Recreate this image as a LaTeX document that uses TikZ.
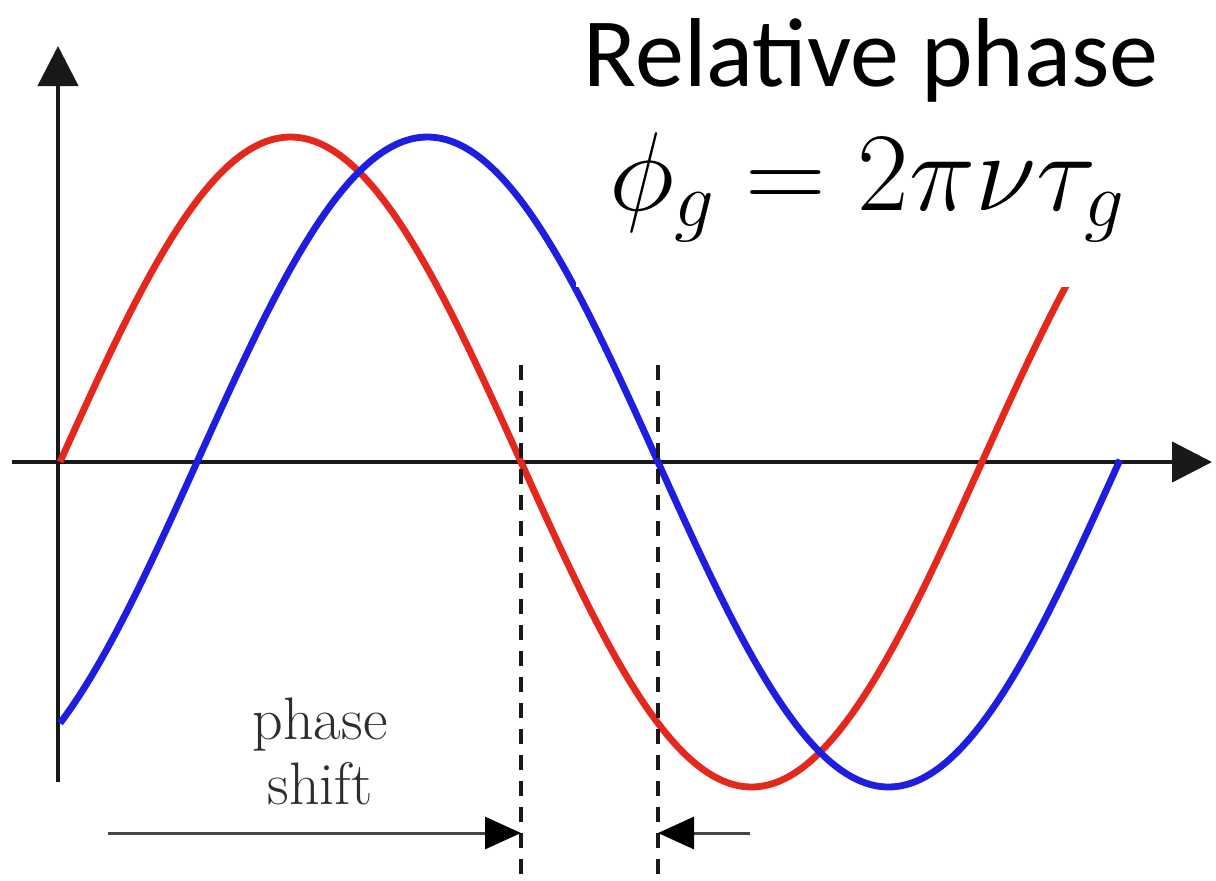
\RequirePackage{fix-cm}
\documentclass[tikz,border=0pt]{standalone}
\usepackage{fontspec}
\newfontfamily\calfont{Carlito}
\usetikzlibrary{arrows.meta}
\definecolor{wred}{RGB}{228,40,30}
\definecolor{wblue}{RGB}{30,30,225}
\definecolor{axiscol}{RGB}{25,25,25}
\definecolor{labelgray}{RGB}{45,45,45}
\definecolor{dimgray}{RGB}{70,70,70}
\begin{document}
\begin{tikzpicture}[x=0.5pt,y=-0.5pt,
  axisline/.style={draw=axiscol,line width=2.2pt,-{Triangle[length=20pt,width=20pt]}},
  wave/.style={line width=3.4pt},
  guide/.style={draw=axiscol,line width=2pt,dash pattern=on 7.5pt off 5.5pt},
  dimline/.style={draw=dimgray,line width=1.5pt,-{Triangle[length=18pt,width=16pt,black]}},
  lbl/.style={text=labelgray,font=\fontsize{30}{36}\selectfont,inner sep=0pt}]
\useasboundingbox (0,0) rectangle (1216,880);
\fill[white] (0,0) rectangle (1216,880);
% axes
\coordinate (ybot) at (58,782);
\coordinate (ytop) at (58,46);
\coordinate (xl) at (12,462);
\coordinate (xr) at (1212,462);
\draw[axisline] (ybot) -- (ytop);
\draw[axisline] (xl) -- (xr);
% waves
\draw[wave,wred] plot[domain=60:1078,samples=240,smooth] (\x,{462-325*sin((\x-60)/461*180)});
\draw[wave,wblue] plot[domain=60:1120,samples=240,smooth] (\x,{462-325*sin((\x-197)/461*180)});
% guides
\coordinate (g1t) at (521,365);
\coordinate (g1b) at (521,880);
\coordinate (g2t) at (658,365);
\coordinate (g2b) at (658,880);
\draw[guide] (g1t) -- (g1b);
\draw[guide] (g2t) -- (g2b);
% dimension arrows
\coordinate (d1s) at (108,833);
\coordinate (d1e) at (521,833);
\coordinate (d2s) at (750,833);
\coordinate (d2e) at (658,833);
\draw[dimline] (d1s) -- (d1e);
\draw[dimline] (d2s) -- (d2e);
\node[lbl,anchor=base] (ps1) at (320,739) {phase};
\node[lbl,anchor=base] (ps2) at (320,804) {shift};
% title box
\fill[white] (576,0) rectangle (1216,287);
\node[anchor=base,inner sep=0pt,font=\calfont\fontsize{49}{58}\selectfont] (title) at (871,86) {Relative phase};
\node[anchor=base,inner sep=0pt,font=\fontsize{56}{66}\selectfont] (eq) at (867,210) {$\phi_g = 2\pi\nu\tau_g$};
\end{tikzpicture}
\end{document}
